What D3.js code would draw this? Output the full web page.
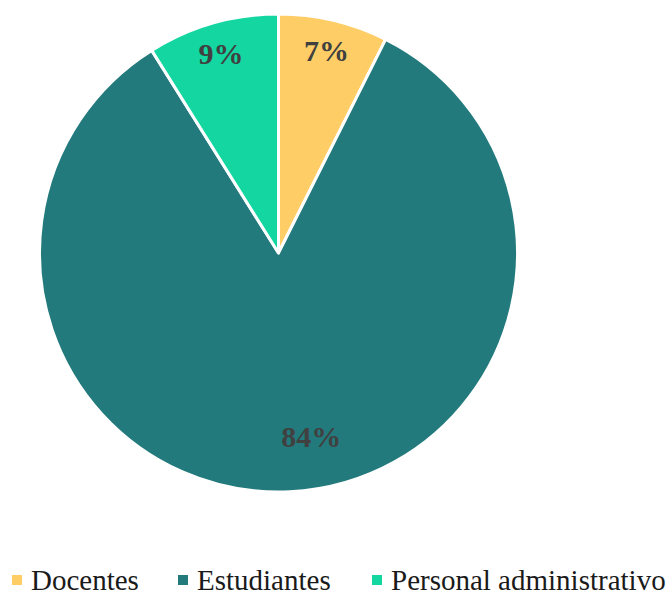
<!DOCTYPE html>
<html><head><meta charset="utf-8">
<script src="https://cdn.jsdelivr.net/npm/d3@7"></script>
<style>body{margin:0;background:#fff}</style>
</head><body>
<svg id="c" width="671" height="595"></svg>
<script>
const categories = ["Docentes", "Estudiantes", "Personal administrativo"];
const values = [7.4, 83.7, 8.9];
const labels = ["7%", "84%", "9%"];
const colors = ["#FFCD66", "#237A7D", "#13D6A0"];

const svg = d3.select("#c");
const cx = 278.5, cy = 253, R = 239;
const g = svg.append("g").attr("transform", `translate(${cx},${cy})`);
const pie = d3.pie().sort(null).value(d => d)(values);
const arc = d3.arc().innerRadius(0).outerRadius(R);
g.selectAll("path").data(pie).enter().append("path")
  .attr("d", arc).attr("fill", (d,i) => colors[i])
  .attr("stroke", "#fff").attr("stroke-width", 3).attr("stroke-linejoin","round");

const labelR = [0.87, 0.78, 0.87];
const angleShift = [0, -0.13, 0];
g.selectAll("text.lbl").data(pie).enter().append("text")
  .attr("class","lbl")
  .attr("transform", (d,i) => {
    const a = (d.startAngle + d.endAngle)/2 + angleShift[i];
    const r = R*labelR[i];
    return `translate(${r*Math.sin(a)},${-r*Math.cos(a)})`;
  })
  .attr("text-anchor","middle").attr("dy","0.35em")
  .attr("font-family","'Liberation Serif','Times New Roman',serif")
  .attr("font-weight","bold").attr("font-size",30).attr("fill","#404040")
  .text((d,i) => labels[i]);

const legX = [12, 178, 372];
const lg = svg.append("g");
categories.forEach((c,i) => {
  lg.append("rect").attr("x", legX[i]).attr("y", 575).attr("width", 10).attr("height", 10).attr("fill", colors[i]);
  lg.append("text").attr("x", legX[i]+19).attr("y", 590)
    .attr("font-family","'Liberation Serif','Times New Roman',serif")
    .attr("font-size",29).attr("fill","#1a1a1a").text(c);
});
</script>
</body></html>
